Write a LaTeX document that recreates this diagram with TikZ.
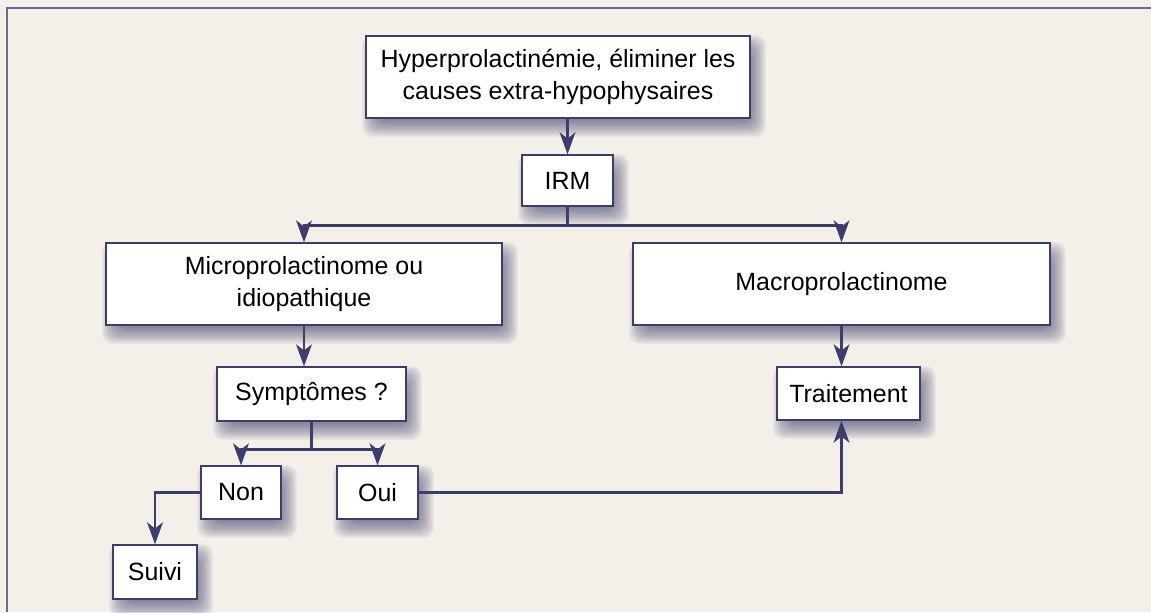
\documentclass[tikz,border=0pt]{standalone}
\usepackage{fontspec}
\setmainfont{Liberation Sans}
\usetikzlibrary{positioning,arrows.meta,backgrounds}

\definecolor{navy}{HTML}{3D3D6B}
\definecolor{frame}{HTML}{6B6A92}
\definecolor{paper}{HTML}{F4EFE9}

\tikzset{
  box/.style={draw=navy, line width=0.8pt, fill=white, align=center, inner sep=0pt,
    font=\fontsize{14.2}{18.5}\selectfont},
  link/.style={draw=navy, line width=1.5pt, -{Stealth[length=12.5pt,width=9pt,inset=3.5pt]}}
}

\begin{document}
\begin{tikzpicture}[x=0.02cm,y=-0.02cm]
  \useasboundingbox (0,0) rectangle (1151,612);
  \begin{pgfonlayer}{background}
    \fill[paper] (0,0) rectangle (1151,612);
  \end{pgfonlayer}
  \draw[frame, line width=1.4pt] (7,612) -- (7,8) -- (1151,8);

  % boxes
  \node[box, minimum width=7.68cm, minimum height=1.64cm] (hyper) at (558,77)
    {Hyperprolactinémie, éliminer les\\causes extra-hypophysaires};
  \node[box, minimum width=1.82cm, minimum height=1.02cm] (IRM) at (567.5,180.5) {IRM};
  \node[box, minimum width=7.92cm, minimum height=1.64cm] (micro) at (304,284)
    {Microprolactinome ou\\idiopathique};
  \node[box, minimum width=8.34cm, minimum height=1.64cm] (macro) at (841.5,284) {Macroprolactinome};
  \node[box, minimum width=3.78cm, minimum height=1.08cm] (sympt) at (311.5,394) {Symptômes ?};
  \node[box, minimum width=2.86cm, minimum height=1.06cm] (trait) at (848.5,393.5) {Traitement};
  \node[box, minimum width=1.6cm, minimum height=1.06cm] (non) at (241,492.5) {Non};
  \node[box, minimum width=1.62cm, minimum height=1.06cm] (oui) at (377.5,492.5) {Oui};
  \node[box, minimum width=1.68cm, minimum height=1.08cm] (suivi) at (155,572) {Suivi};

  % soft shadows behind the boxes
  \begin{pgfonlayer}{background}
    \foreach \n in {hyper,IRM,micro,macro,sympt,trait,non,oui,suivi}
      \foreach \e in {9,7,...,-9}
        \fill[navy, opacity=0.09, rounded corners=6pt]
          ([shift={(6-\e,9+\e)}]\n.south west) rectangle ([shift={(6+\e,9-\e)}]\n.north east);
  \end{pgfonlayer}

  % connectors
  \draw[link] (IRM.north |- hyper.south) -- (IRM.north);
  \draw[link] (IRM.south) -- ++(0,19) -| (micro.north);
  \draw[link] (IRM.south) -- ++(0,19) -| (macro.north);
  \draw[link] (micro.south) -- (micro.south |- sympt.north);
  \draw[link] (macro.south) -- (macro.south |- trait.north);
  \draw[link] (sympt.south) -- ++(0,28) -| (non.north);
  \draw[link] (sympt.south) -- ++(0,28) -| (oui.north);
  \draw[link] (non.west) -| (suivi.north);
  \draw[link] (oui.east) -| (macro.south |- trait.south);
\end{tikzpicture}
\end{document}
